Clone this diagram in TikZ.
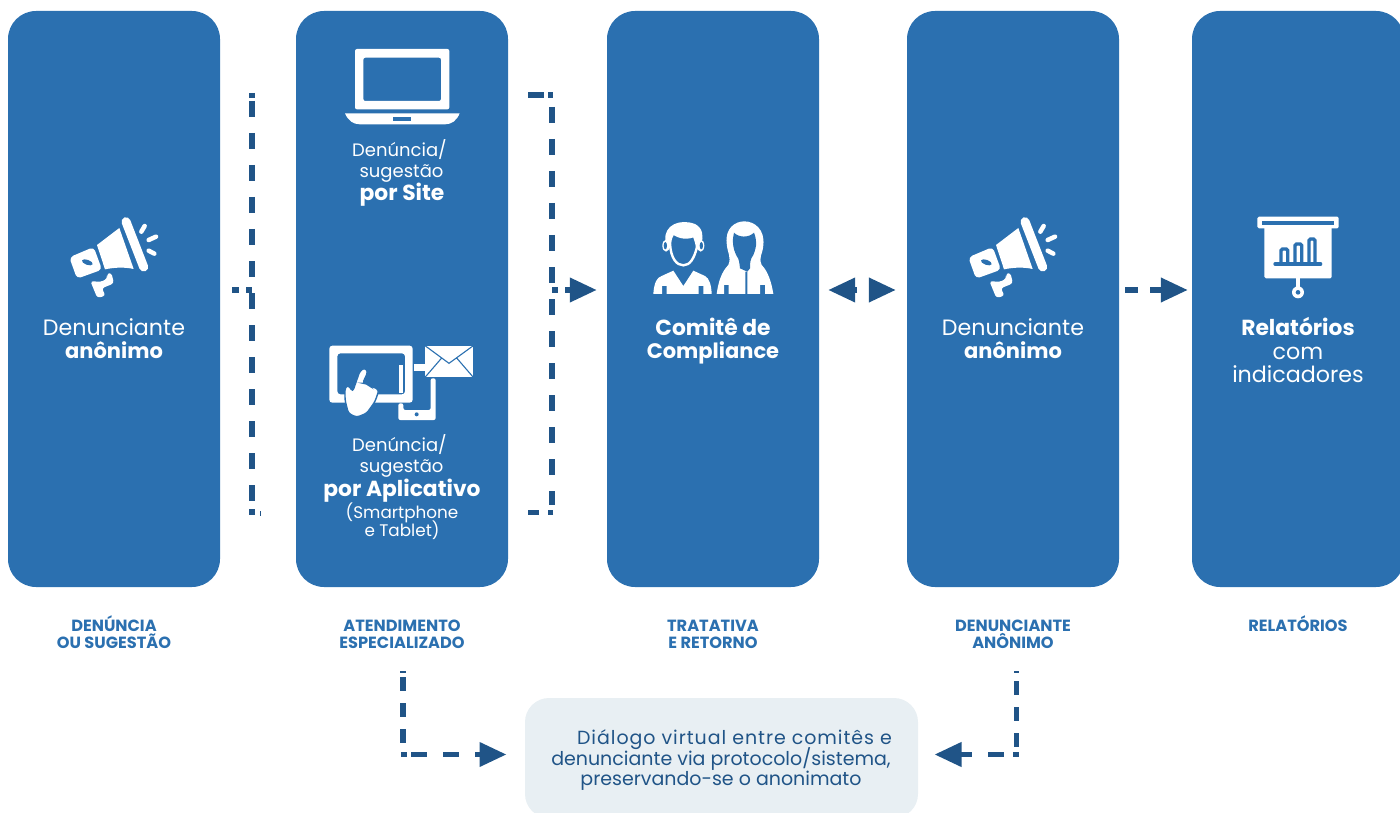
\documentclass[tikz,border=0pt]{standalone}
\usepackage{fontspec}
\setmainfont{Poppins}
\usetikzlibrary{arrows.meta,calc}
\definecolor{panelblue}{HTML}{2B70B0}
\definecolor{linkblue}{HTML}{205487}
\definecolor{softbox}{HTML}{E8EFF3}
\tikzset{
  panel/.style={fill=panelblue,rounded corners=28pt,minimum width=212pt,minimum height=576pt,inner sep=0pt,draw=none},
  softpanel/.style={fill=softbox,rounded corners=24pt,minimum width=393pt,minimum height=120pt,inner sep=0pt,draw=none},
  plain/.style={text=white,font=\fontsize{22.2}{24}\selectfont,anchor=base,inner sep=0pt,align=center},
  strong/.style={text=white,font=\fontsize{21.8}{24}\selectfont\bfseries,anchor=base,inner sep=0pt,align=center},
  strongless/.style={strong,font=\fontsize{21}{24}\selectfont\bfseries},
  small/.style={text=white,font=\fontsize{18}{21}\selectfont,anchor=base,inner sep=0pt},
  tiny/.style={text=white,font=\fontsize{16.8}{18}\selectfont,anchor=base,inner sep=0pt},
  caption/.style={text=panelblue,font=\fontsize{16.2}{18}\selectfont\bfseries,anchor=base,inner sep=0pt},
  softtext/.style={text=linkblue,font=\fontsize{19}{21}\selectfont,anchor=base,inner sep=0pt},
  link/.style={draw=linkblue,line width=5.5pt},
  tipped/.style={link,-{Triangle[length=27pt,width=23.5pt]}},
  zoomed/.style={x=0.33333pt,y=-0.33333pt},
  ic/.style={fill=white,draw=none},
  icb/.style={fill=panelblue,draw=none},
}
\newcommand{\megaphone}[1]{%
  \begin{scope}[shift={(#1,200)},zoomed]
    \draw[white,line width=9pt,line cap=round] (258,65) -- (311,201);
    \fill[ic] (171,135) -- (238,84) -- (281,207) .. controls (250,200) and (220,203) .. (195,208) -- cycle;
    \fill[ic,rounded corners=4pt] (88,172) -- (161,141) -- (186,209) -- (111,236) -- cycle;
    \fill[icb,rotate around={-20:(142,187)}] (142,187) ellipse [x radius=17,y radius=7.5];
    \fill[ic,rounded corners=3pt] (151,243) -- (172,294) -- (197,287) -- (185,265) -- (222,250) -- (214,218) -- (200,222) -- (202,236) -- (182,246) -- cycle;
    \draw[white,line width=4.5pt,line cap=round] (314,78) -- (304,95);
    \draw[white,line width=4.5pt,line cap=round] (348,110) -- (326,120);
    \draw[white,line width=4.5pt,line cap=round] (326,152) -- (343,161);
  \end{scope}}
\begin{document}
\begin{tikzpicture}[x=1pt,y=-1pt]
\useasboundingbox (0,0) rectangle (1400,813);
% panels
\node[panel] (p1) at (114,299) {};
\node[panel] (p2) at (402,299) {};
\node[panel] (p3) at (713,299) {};
\node[panel] (p4) at (1013,299) {};
\node[panel] (p5) at (1298,299) {};
\node[softpanel] (dlg) at (721.5,758) {};
% icons
\megaphone{40}
\megaphone{939}
% laptop
\begin{scope}[shift={(310,30)},zoomed]
  \fill[ic,rounded corners=2pt,even odd rule] (135,57) rectangle (418,238) (160,83) rectangle (393,213);
  \fill[ic] (105,250) -- (449,250) .. controls (440,272) and (425,283) .. (405,283) -- (150,283) .. controls (130,283) and (114,272) .. (105,250) -- cycle;
  \fill[icb] (250,262) rectangle (302,273);
\end{scope}
% tablet and phone
\begin{scope}[shift={(310,330)},zoomed]
  \fill[ic,rounded corners=3pt,even odd rule] (58,47) rectangle (308,218) (82,70) rectangle (285,193);
  \fill[ic] (266,105) rectangle (280,190);
  \fill[ic,rounded corners=2pt] (265,220) -- (280,220) -- (280,240) -- (362,240) -- (362,145) -- (377,145) -- (377,270) -- (265,270) -- cycle;
  \fill[icb] (320,253) circle [radius=6];
  \fill[ic] (313,102) rectangle (346,122);
  \fill[ic,draw=panelblue,line width=1.4pt,rounded corners=3pt] (105,172) -- (115,165) -- (128,185) -- (150,122) -- (165,113) -- (174,125) -- (158,160) -- (170,160) -- (180,170) -- (190,170) -- (207,180) -- (195,215) -- (170,250) -- (140,262) -- (115,250) -- (105,210) -- cycle;
  \fill[ic] (345,47) rectangle (490,142);
  \draw[panelblue,line width=1.1pt] (345,47) -- (417,100) -- (490,47) (345,142) -- (395,84) (490,142) -- (440,84);
\end{scope}
% committee
\begin{scope}[shift={(540,200)},zoomed]
  \fill[ic] (376,120) .. controls (372,75) and (420,55) .. (465,72) .. controls (490,85) and (490,110) .. (485,130) -- (470,150) -- (392,150) -- cycle;
  \fill[ic] (378,137) ellipse [x radius=11,y radius=18];
  \fill[ic] (482,137) ellipse [x radius=11,y radius=18];
  \fill[icb] (376,137) ellipse [x radius=5,y radius=11];
  \fill[icb] (484,137) ellipse [x radius=5,y radius=11];
  \fill[icb,draw=white,line width=2.4pt] (390,130) .. controls (392,115) and (394,108) .. (400,100) .. controls (420,115) and (445,115) .. (462,108) .. controls (468,125) and (472,135) .. (470,145) .. controls (462,175) and (450,196) .. (430,196) .. controls (410,196) and (392,175) .. (390,130) -- cycle;
  \fill[ic] (340,282) .. controls (342,250) and (350,232) .. (365,228) -- (400,212) -- (430,258) -- (460,212) -- (495,228) .. controls (508,235) and (514,255) .. (515,282) -- (490,282) -- (490,258) -- (476,258) -- (476,282) -- (380,282) -- (380,258) -- (366,258) -- (366,282) -- cycle;
  \fill[ic] (560,130) .. controls (555,85) and (585,64) .. (613,64) .. controls (645,64) and (675,90) .. (670,135) .. controls (668,165) and (655,170) .. (665,195) .. controls (685,215) and (695,250) .. (700,282) -- (675,282) -- (675,255) -- (660,255) -- (660,282) -- (622,282) -- (622,215) -- (616,215) -- (616,282) -- (566,282) -- (566,255) -- (552,255) -- (552,282) -- (530,282) .. controls (535,245) and (545,215) .. (565,195) .. controls (575,170) and (562,160) .. (560,130) -- cycle;
  \fill[icb] (582,98) .. controls (595,112) and (625,115) .. (642,98) .. controls (650,120) and (652,135) .. (640,165) .. controls (630,178) and (630,190) .. (630,205) -- (622,215) -- (600,205) .. controls (598,190) and (598,178) .. (590,168) .. controls (578,145) and (576,120) .. (582,98) -- cycle;
\end{scope}
% presentation
\begin{scope}[shift={(1120,200)},zoomed]
  \fill[ic,rounded corners=1.5pt] (412,50) rectangle (656,85);
  \fill[icb] (425,62) rectangle (643,74);
  \fill[ic,rounded corners=1.5pt] (433,80) rectangle (635,235);
  \draw[panelblue,line width=3.3pt,rounded corners=1.5pt] (483,187) -- (483,147) -- (503,147) -- (503,187);
  \draw[panelblue,line width=3.3pt,rounded corners=1.5pt] (525,187) -- (525,132) -- (545,132) -- (545,187);
  \draw[panelblue,line width=3.3pt,rounded corners=1.5pt] (567,187) -- (567,117) -- (585,117) -- (585,187);
  \draw[panelblue,line width=3.3pt,line cap=round] (465,192) -- (602,192);
  \fill[ic] (528,230) rectangle (540,265);
  \fill[ic] (534,277) circle [radius=18];
  \fill[icb] (534,277) circle [radius=7];
\end{scope}
% panel texts
\node[plain] (t1a) at (114,335) {Denunciante};
\node[strongless] (t1b) at (114,358) {anônimo};
\node[small] (t2a) at (399.5,157) {Denúncia/};
\node[small] (t2b) at (401.5,178) {sugestão};
\node[strong] (t2c) at (402,201) {por Site};
\node[small] (t2d) at (399.5,451) {Denúncia/};
\node[small] (t2e) at (401.5,472) {sugestão};
\node[strong] (t2f) at (402,496) {por Aplicativo};
\node[tiny] (t2g) at (402,518) {(Smartphone};
\node[tiny] (t2h) at (402,536) {e Tablet)};
\node[strong] (t3a) at (713,335) {Comitê de};
\node[strongless] (t3b) at (713,358) {Compliance};
\node[plain] (t4a) at (1013,335) {Denunciante};
\node[strongless] (t4b) at (1013,358) {anônimo};
\node[strong] (t5a) at (1298,335) {Relatórios};
\node[plain] (t5b) at (1298,359) {com};
\node[plain] (t5c) at (1298,382) {indicadores};
% captions
\node[caption] (c1a) at (114,631) {DENÚNCIA};
\node[caption] (c1b) at (114,648) {OU SUGESTÃO};
\node[caption] (c2a) at (402,631) {ATENDIMENTO};
\node[caption] (c2b) at (402,648) {ESPECIALIZADO};
\node[caption] (c3a) at (713,631) {TRATATIVA};
\node[caption] (c3b) at (713,648) {E RETORNO};
\node[caption] (c4a) at (1013,631) {DENUNCIANTE};
\node[caption] (c4b) at (1013,648) {ANÔNIMO};
\node[caption] (c5a) at (1298,631) {RELATÓRIOS};
% dialog text
\node[softtext] (d1) at (734.5,744) {\addfontfeature{LetterSpace=5}Diálogo virtual entre comitês e};
\node[softtext] (d2) at (721,765) {denunciante via protocolo/sistema,};
\node[softtext] (d3) at (721,785) {preservando-se o anonimato};
% connector anchors
\coordinate (row) at (0,290);
\coordinate (t1tick) at (252,93);
\coordinate (t1tock) at (252,98);
\coordinate (t1top) at (252,101);
\coordinate (t1bot) at (252,501);
\coordinate (t1mid) at (252,290);
\coordinate (t1dotA) at (252,509);
\coordinate (t1dotB) at (252,514.5);
\coordinate (t1slivA) at (260.3,511);
\coordinate (t1slivB) at (260.3,516);
\coordinate (b2a) at (528,95);
\coordinate (b2b) at (553,95);
\coordinate (b2top) at (552,107);
\coordinate (b2bot) at (552,505);
\coordinate (b2c) at (553,512.5);
\coordinate (b2d) at (528,512.5);
\coordinate (b2mid) at (552,290);
\coordinate (dblL) at (857,290);
\coordinate (dblR) at (870,290);
\coordinate (lTop) at (403,671);
\coordinate (lEnd) at (403,743);
\coordinate (lCorner) at (401,754.5);
\coordinate (rTop) at (1016.5,671);
\coordinate (rEnd) at (1016.5,747);
\coordinate (rCorner) at (1018.5,754.5);
% connectors
\draw[link] (t1tick) -- (t1tock);
\draw[link,dash pattern=on 16pt off 16pt] (t1top) -- (t1bot);
\draw[link] (t1dotA) -- (t1dotB);
\draw[link,line width=1pt] (t1slivA) -- (t1slivB);
\draw[link,dash pattern=on 7pt off 7pt,shorten <=12pt] (p1.east |- row) -- (t1mid);
\draw[link,dash pattern=on 15.5pt off 4.5pt on 5.5pt off 20pt] (b2a) -- (b2b);
\draw[link,dash pattern=on 16pt off 16pt] (b2top) -- (b2bot);
\draw[link,dash pattern=on 5pt off 9pt on 11pt off 20pt] (b2c) -- (b2d);
\draw[tipped,dash pattern=on 6pt off 7pt on 40pt,shorten >=10pt] (b2mid) -- (p3.west |- row);
\draw[tipped,shorten >=9pt] (dblL) -- (p3.east |- row);
\draw[tipped,shorten >=11pt] (dblR) -- (p4.west |- row);
\draw[tipped,dash pattern=on 13pt off 12pt on 60pt,shorten <=6pt,shorten >=4pt] (p4.east |- row) -- (p5.west |- row);
\draw[link,dash pattern=on 1.5pt off 4.5pt on 13.5pt off 12.5pt on 13.5pt off 12.5pt on 13.5pt off 60pt] (lTop) -- (lEnd);
\draw[tipped,dash pattern=on 6pt off 4pt on 16pt off 16pt on 16pt off 16pt on 60pt,shorten >=18.3pt] (lCorner) -- (dlg.west |- lCorner);
\draw[link,dash pattern=on 1.5pt off 8.5pt on 13.5pt off 12.5pt on 13.5pt off 12.5pt on 13.5pt off 60pt] (rTop) -- (rEnd);
\draw[tipped,dash pattern=on 6pt off 9pt on 16pt off 16pt on 60pt,shorten >=16.3pt] (rCorner) -- (dlg.east |- rCorner);
\end{tikzpicture}
\end{document}
